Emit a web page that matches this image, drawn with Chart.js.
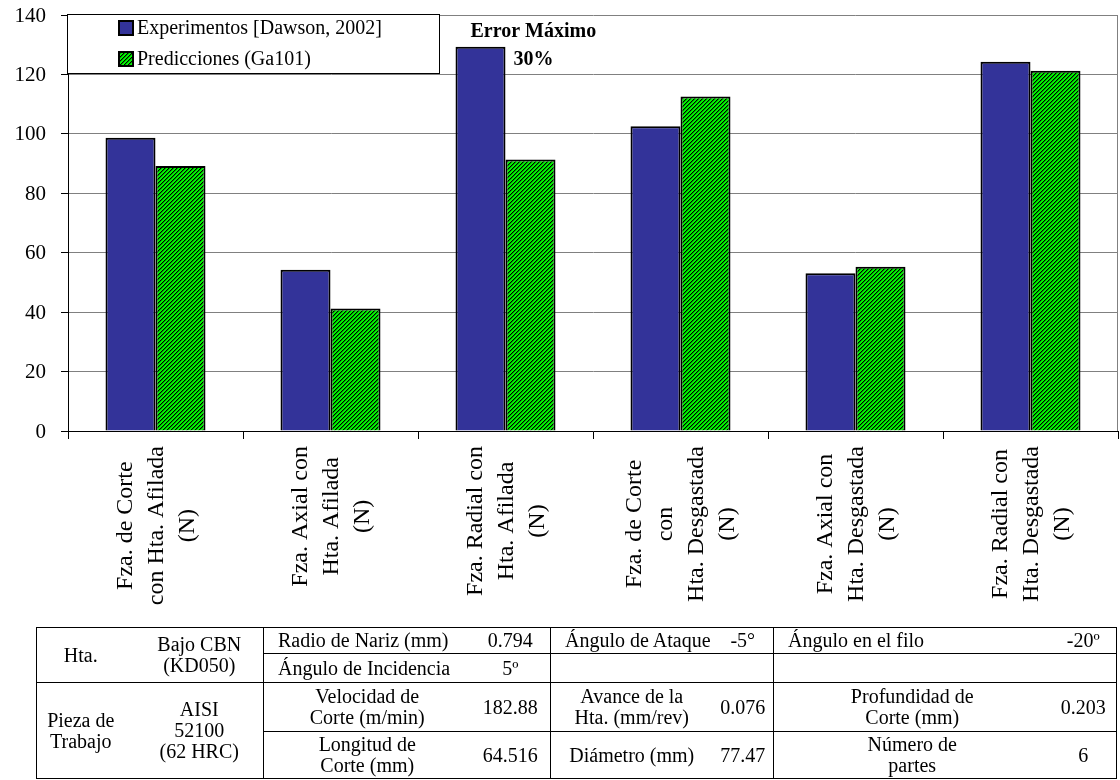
<!DOCTYPE html>
<html>
<head>
<meta charset="utf-8">
<script src="https://cdn.jsdelivr.net/npm/chart.js@4.4.1/dist/chart.umd.min.js"></script>
<style>
    html, body { margin: 0; padding: 0; background: #fff; }
    body { width: 1120px; height: 780px; position: relative; overflow: hidden; font-family: "Liberation Serif", "Times New Roman", serif; }
    #wrap { position: absolute; left: 0; top: 0; width: 1120px; height: 632px; }
    table.params {
        position: absolute; left: 36px; top: 627px; width: 1080px;
        border-collapse: collapse; table-layout: fixed;
        font-family: "Liberation Serif", "Times New Roman", serif;
        font-size: 20px; line-height: 21px; color: #000;
        border: 1px solid #000;
    }
    table.params td { padding: 0 2px; text-align: center; vertical-align: middle; white-space: nowrap; overflow: hidden; }
    table.params td.l { text-align: left; padding-left: 14px; }
    .bt { border-top: 1px solid #000; }
    .bl { border-left: 1px solid #000; }
</style>
</head>
<body>
<div id="wrap"><canvas id="forceChart" width="1120" height="632"></canvas></div>

<table class="params">
    <colgroup>
        <col style="width:88px"><col style="width:139px"><col style="width:207px"><col style="width:80px">
        <col style="width:162px"><col style="width:61px"><col style="width:277px"><col style="width:66px">
    </colgroup>
    <tr style="height:26px">
        <td rowspan="2">Hta.</td>
        <td rowspan="2" style="padding-left:13px">Bajo CBN<br>(KD050)</td>
        <td class="bl l">Radio de Nariz (mm)</td><td>0.794</td>
        <td class="bl l">Ángulo de Ataque</td><td>-5°</td>
        <td class="bl l">Ángulo en el filo</td><td>-20º</td>
    </tr>
    <tr style="height:29px">
        <td class="bl bt l">Ángulo de Incidencia</td><td class="bt">5º</td>
        <td class="bl bt" colspan="2"></td>
        <td class="bl bt" colspan="2"></td>
    </tr>
    <tr style="height:49px">
        <td class="bt" rowspan="2">Pieza de<br>Trabajo</td>
        <td class="bt" rowspan="2" style="padding-left:13px">AISI<br>52100<br>(62 HRC)</td>
        <td class="bl bt">Velocidad de<br>Corte (m/min)</td><td class="bt">182.88</td>
        <td class="bl bt">Avance de la<br>Hta. (mm/rev)</td><td class="bt">0.076</td>
        <td class="bl bt">Profundidad de<br>Corte (mm)</td><td class="bt">0.203</td>
    </tr>
    <tr style="height:47px">
        <td class="bl bt">Longitud de<br>Corte (mm)</td><td class="bt">64.516</td>
        <td class="bl bt">Diámetro (mm)</td><td class="bt">77.47</td>
        <td class="bl bt">Número de<br>partes</td><td class="bt">6</td>
    </tr>
</table>

<script>
// ---- data ----
const categories = [
    ['Fza. de Corte', 'con Hta. Afilada', '(N)'],
    ['Fza. Axial con', 'Hta. Afilada', '(N)'],
    ['Fza. Radial con', 'Hta. Afilada', '(N)'],
    ['Fza. de Corte', 'con', 'Hta. Desgastada', '(N)'],
    ['Fza. Axial con', 'Hta. Desgastada', '(N)'],
    ['Fza. Radial con', 'Hta. Desgastada', '(N)']
];
const experimentos = [98.7, 54.3, 129.3, 102.6, 53.1, 124.3];
const predicciones = [89.2, 41.2, 91.4, 112.6, 55.3, 121.2];
const yTicks = [0, 20, 40, 60, 80, 100, 120, 140];
const seriesNames = ['Experimentos [Dawson, 2002]', 'Predicciones (Ga101)'];
const noteLines = ['Error Máximo', '30%'];

const SERIF = '"Liberation Serif", "Times New Roman", serif';

// green with black diagonal stripes
function makeHatch(ctx) {
    const c = document.createElement('canvas');
    c.width = 4; c.height = 4;
    const g = c.getContext('2d');
    const img = g.createImageData(4, 4);
    const shades = [[0, 0, 0], [0, 150, 0], [0, 245, 0], [0, 245, 0]];
    for (let y = 0; y < 4; y++) {
        for (let x = 0; x < 4; x++) {
            const i = (y * 4 + x) * 4;
            const s = shades[(x + y) % 4];
            img.data[i] = s[0];
            img.data[i + 1] = s[1];
            img.data[i + 2] = s[2];
            img.data[i + 3] = 255;
        }
    }
    g.putImageData(img, 0, 0);
    return ctx.createPattern(c, 'repeat');
}

const canvas = document.getElementById('forceChart');
const hatch = makeHatch(canvas.getContext('2d'));

// y labels, category labels, legend, note and right border
const decor = {
    id: 'decor',
    afterDraw(chart) {
        const ctx = chart.ctx;
        const area = chart.chartArea;
        const xs = chart.scales.x;
        const ys = chart.scales.y;

        ctx.save();
        // right border of plot
        ctx.strokeStyle = '#808080';
        ctx.lineWidth = 1;
        ctx.beginPath();
        ctx.moveTo(area.right - 0.5, area.top);
        ctx.lineTo(area.right - 0.5, area.bottom);
        ctx.stroke();

        // y tick labels
        ctx.fillStyle = '#000';
        ctx.font = '21px ' + SERIF;
        ctx.textAlign = 'right';
        ctx.textBaseline = 'middle';
        yTicks.forEach(v => {
            ctx.fillText(String(v), area.left - 22, ys.getPixelForValue(v) + 1);
        });

        // vertical category labels
        ctx.font = '24px ' + SERIF;
        ctx.textAlign = 'center';
        const lineH = 31;
        categories.forEach((lines, i) => {
            const cx = xs.getPixelForValue(i);
            const maxW = Math.max(...lines.map(t => ctx.measureText(t).width));
            const cy = area.bottom + 15 + maxW / 2;
            lines.forEach((t, j) => {
                const lx = cx + (j - (lines.length - 1) / 2) * lineH;
                ctx.save();
                ctx.translate(lx, cy);
                ctx.rotate(-Math.PI / 2);
                ctx.fillText(t, 0, 1);
                ctx.restore();
            });
        });

        // legend box
        const lx = area.left - 1, ly = area.top - 1, lw = 372, lh = 59;
        ctx.fillStyle = '#fff';
        ctx.fillRect(lx, ly, lw, lh);
        ctx.strokeStyle = '#000';
        ctx.lineWidth = 1;
        ctx.strokeRect(lx + 0.5, ly + 0.5, lw, lh);
        ctx.font = '20px ' + SERIF;
        ctx.textAlign = 'left';
        chart.data.datasets.forEach((ds, i) => {
            const y = ly + 14 + i * 31;
            ctx.fillStyle = ds.backgroundColor;
            ctx.fillRect(lx + 51, y - 8, 16, 16);
            ctx.lineWidth = 2;
            ctx.strokeStyle = '#000';
            ctx.strokeRect(lx + 52, y - 7, 14, 14);
            ctx.fillStyle = '#000';
            ctx.fillText(ds.label, lx + 70, y + 1);
        });

        // note next to the largest-error bar
        const bar = chart.getDatasetMeta(0).data[2];
        ctx.font = 'bold 20px ' + SERIF;
        ctx.fillText(noteLines[0], bar.x - bar.width / 2 + 15, bar.y - 15);
        ctx.fillText(noteLines[1], bar.x + bar.width / 2 + 8, bar.y + 13);
        ctx.restore();
    }
};

new Chart(canvas, {
    type: 'bar',
    data: {
        labels: categories,
        datasets: [
            {
                label: seriesNames[0],
                data: experimentos,
                backgroundColor: '#333399',
                borderColor: '#000',
                borderWidth: 2,
                barPercentage: 1,
                categoryPercentage: 0.5714
            },
            {
                label: seriesNames[1],
                data: predicciones,
                backgroundColor: hatch,
                borderColor: '#000',
                borderWidth: 2,
                barPercentage: 1,
                categoryPercentage: 0.5714
            }
        ]
    },
    options: {
        responsive: false,
        animation: false,
        layout: { padding: { top: 15, right: 2, left: 0, bottom: 0 } },
        plugins: {
            legend: { display: false },
            tooltip: { enabled: false }
        },
        scales: {
            x: {
                ticks: { display: false },
                grid: {
                    offset: true,
                    drawOnChartArea: false,
                    drawTicks: true,
                    tickLength: 8,
                    tickColor: '#000'
                },
                border: { color: '#000', width: 1 },
                afterFit(scale) { scale.height = 201; }
            },
            y: {
                min: yTicks[0],
                max: yTicks[yTicks.length - 1],
                afterBuildTicks(scale) { scale.ticks = yTicks.map(v => ({ value: v })); },
                ticks: { display: false },
                grid: {
                    color: '#808080',
                    lineWidth: 1,
                    tickLength: 7,
                    tickColor: '#000'
                },
                border: { color: '#000', width: 1 },
                afterFit(scale) { scale.width = 68; }
            }
        }
    },
    plugins: [decor]
});
</script>
</body>
</html>
